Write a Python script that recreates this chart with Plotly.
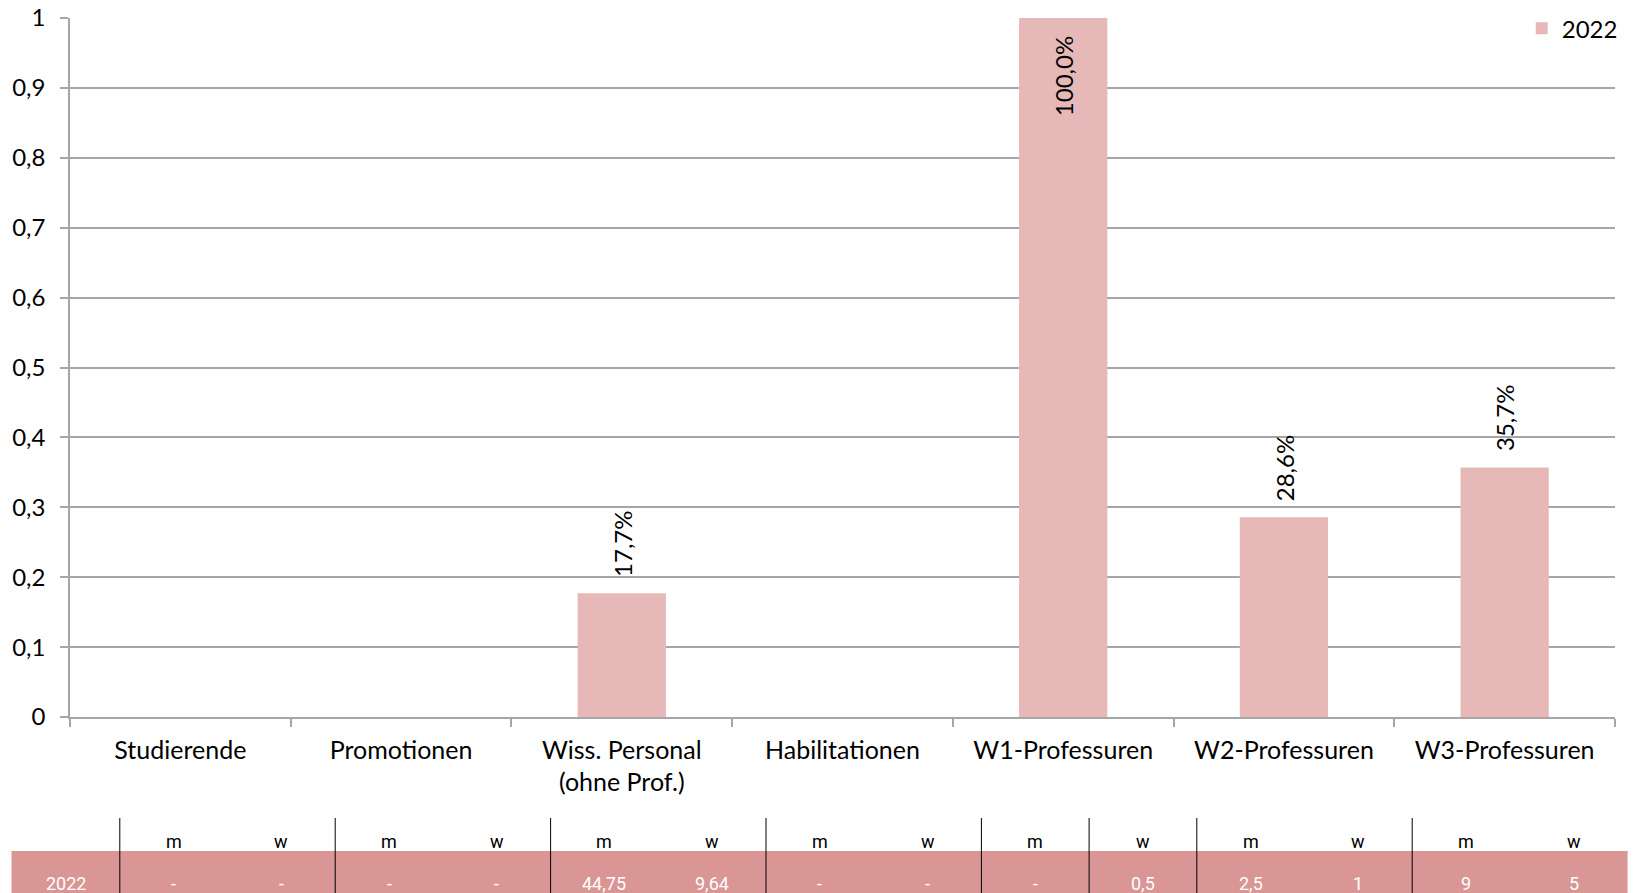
import plotly.graph_objects as go

# ---------------- data ----------------
categories = ["Studierende", "Promotionen", "Wiss. Personal<br>(ohne Prof.)",
              "Habilitationen", "W1-Professuren", "W2-Professuren", "W3-Professuren"]
series_name = "2022"
share_w = [None, None, 0.1772, None, 1.0, 0.2857, 0.3571]
count_m = ["-", "-", "44,75", "-", "-", "2,5", "9"]
count_w = ["-", "-", "9,64", "-", "0,5", "1", "5"]
y_ticks = [0, 0.1, 0.2, 0.3, 0.4, 0.5, 0.6, 0.7, 0.8, 0.9, 1]

# ---------------- style ----------------
W, H = 1634, 893
L, R, T, B = 70, 19, 18, 176
FONT = "Lato, Carlito, Calibri, sans-serif"
TFONT = "Liberation Sans Narrow, Arial Narrow, Roboto, sans-serif"
BAR_COLOR = "#E6B9B8"
TABLE_COLOR = "#D99694"
GRID = "#A6A6A6"


def px(x):
    return (x - L) / (W - L - R)


def py(y):
    return (H - B - y) / (H - T - B)


fig = go.Figure()
fig.add_trace(go.Bar(
    x=categories, y=share_w, name=series_name,
    marker=dict(color=BAR_COLOR, line=dict(width=0)),
))

annotations = []
# data labels
for cat, v in zip(categories, share_w):
    if v is None:
        continue
    txt = f"{v*100:.1f}%".replace(".", ",")
    if v >= 0.95:
        annotations.append(dict(x=cat, y=v, xref="x", yref="y", text=txt, textangle=-90,
                                showarrow=False, yanchor="top", yshift=-16,
                                font=dict(family=FONT, size=24, color="black")))
    else:
        annotations.append(dict(x=cat, y=v, xref="x", yref="y", text=txt, textangle=-90,
                                showarrow=False, yanchor="bottom", yshift=14,
                                font=dict(family=FONT, size=24, color="black")))

# data table below chart
shapes = []
tab_left, tab_x0, grp_w = 11.5, 119.8, 215.4
tab_right = tab_x0 + grp_w * len(categories)
shapes.append(dict(type="rect", xref="paper", yref="paper",
                   x0=px(tab_left), x1=px(tab_right), y0=py(851), y1=py(894),
                   fillcolor=TABLE_COLOR, line=dict(width=0), layer="below"))
line_xs = [tab_x0 + i * grp_w for i in range(len(categories))]
line_xs.append(tab_x0 + 4 * grp_w + grp_w / 2)
for lx in line_xs:
    shapes.append(dict(type="line", xref="paper", yref="paper",
                       x0=px(lx), x1=px(lx), y0=py(818), y1=py(894),
                       line=dict(color="black", width=1)))

annotations.append(dict(x=px((tab_left + tab_x0) / 2), y=py(883), xref="paper", yref="paper",
                        text=series_name, showarrow=False, xanchor="center", yanchor="middle",
                        font=dict(family=TFONT, size=18, color="white")))
for i, (m, w) in enumerate(zip(count_m, count_w)):
    gx = tab_x0 + i * grp_w
    for frac, hdr, val in [(0.25, "m", m), (0.75, "w", w)]:
        annotations.append(dict(x=px(gx + frac * grp_w), y=py(841), xref="paper", yref="paper",
                                text=hdr, showarrow=False, xanchor="center", yanchor="middle",
                                font=dict(family=TFONT, size=18, color="black")))
        annotations.append(dict(x=px(gx + frac * grp_w), y=py(883), xref="paper", yref="paper",
                                text=val, showarrow=False, xanchor="center", yanchor="middle",
                                font=dict(family=TFONT, size=18, color="white")))

fig.update_layout(
    width=W, height=H,
    margin=dict(l=L, r=R, t=T, b=B, autoexpand=False),
    paper_bgcolor="white", plot_bgcolor="white",
    separators=",.",
    bargap=0.6,
    font=dict(family=FONT, size=24, color="black"),
    showlegend=True,
    legend=dict(x=1.005, xanchor="right", y=1.017, yanchor="top",
                bgcolor="rgba(0,0,0,0)", font=dict(family=FONT, size=24),
                itemwidth=30, tracegroupgap=0),
    xaxis=dict(showline=True, linecolor=GRID, linewidth=1.5, ticks="outside",
               tickson="boundaries", ticklen=8, tickcolor=GRID, tickwidth=1.5,
               showgrid=False, zeroline=False, automargin=False,
               tickfont=dict(family=FONT, size=25), ticklabelstandoff=10),
    yaxis=dict(range=[0, 1], tickvals=y_ticks, tickformat=".1~f",
               showline=True, linecolor=GRID, linewidth=1.5,
               ticks="outside", ticklen=8, tickcolor=GRID, tickwidth=1.5,
               showgrid=True, gridcolor=GRID, gridwidth=1.5, zeroline=False,
               automargin=False,
               tickfont=dict(family=FONT, size=24), ticklabelstandoff=10),
    shapes=shapes,
    annotations=annotations,
)

fig.write_html("out.html",
               config={"displayModeBar": False},
               post_script="document.body.style.margin='0px';document.body.style.overflow='hidden';")
